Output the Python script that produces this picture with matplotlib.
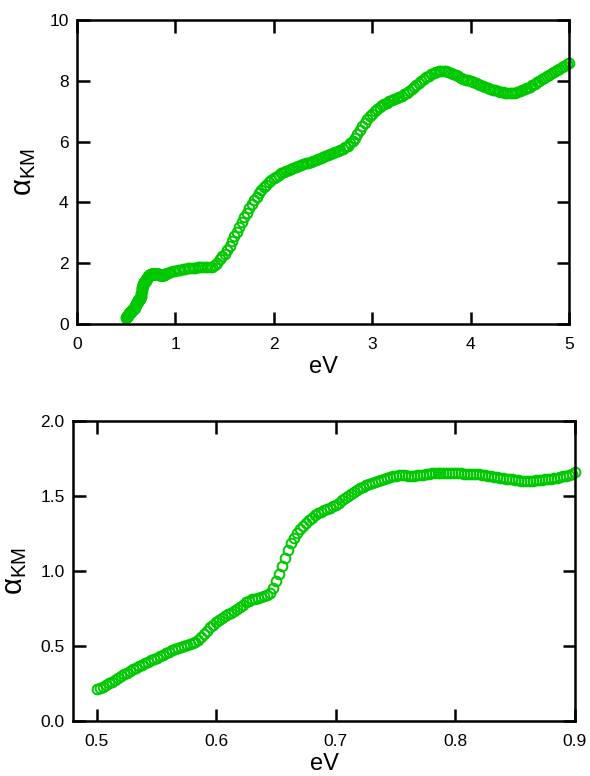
import numpy as np
import matplotlib
matplotlib.use('Agg')
import matplotlib.pyplot as plt

plt.rcParams['font.family'] = ['Liberation Sans', 'DejaVu Sans']
plt.rcParams['mathtext.fontset'] = 'custom'
plt.rcParams['mathtext.rm'] = 'Liberation Sans'
plt.rcParams['mathtext.it'] = 'Liberation Sans'

# absorption (Kubelka-Munk) vs photon energy
# low-energy part, 0.0025 eV steps starting at 0.5 eV
low_start, low_step = 0.5, 0.0025
a_low = [
    0.21, 0.217, 0.225, 0.237, 0.25, 0.262, 0.275, 0.288, 0.30, 0.31,
    0.32, 0.333, 0.345, 0.355, 0.365, 0.375, 0.385, 0.395, 0.405, 0.413,
    0.42, 0.43, 0.44, 0.45, 0.46, 0.47, 0.48, 0.488, 0.495, 0.5,
    0.505, 0.512, 0.52, 0.528, 0.54, 0.558, 0.58, 0.603, 0.625, 0.643,
    0.66, 0.673, 0.685, 0.698, 0.71, 0.722, 0.735, 0.748, 0.76, 0.775,
    0.79, 0.8, 0.81, 0.815, 0.82, 0.825, 0.83, 0.84, 0.855, 0.885,
    0.93, 0.98, 1.03, 1.085, 1.14, 1.185, 1.22, 1.25, 1.28, 1.3,
    1.32, 1.338, 1.355, 1.37, 1.385, 1.395, 1.405, 1.413, 1.42, 1.43,
    1.44, 1.455, 1.47, 1.485, 1.50, 1.513, 1.525, 1.538, 1.55, 1.56,
    1.57, 1.578, 1.585, 1.593, 1.60, 1.608, 1.615, 1.62, 1.625, 1.63,
    1.635, 1.638, 1.64, 1.638, 1.635, 1.635, 1.635, 1.637, 1.64, 1.643,
    1.645, 1.648, 1.65, 1.65, 1.65, 1.65, 1.65, 1.65, 1.65, 1.65,
    1.65, 1.65, 1.65, 1.649, 1.648, 1.648, 1.648, 1.647, 1.645, 1.643,
    1.64, 1.636, 1.632, 1.628, 1.625, 1.621, 1.618, 1.615, 1.612, 1.61,
    1.607, 1.605, 1.603, 1.602, 1.602, 1.602, 1.603, 1.604, 1.606, 1.608,
    1.61, 1.612, 1.615, 1.618, 1.622, 1.626, 1.63, 1.635, 1.64, 1.648,
    1.658,
]

# rest of the spectrum, 0.025 eV steps starting at 0.925 eV
high_start, high_step = 0.925, 0.025
a_high = [
    1.68, 1.71, 1.735,
    1.755, 1.77, 1.785, 1.80, 1.815, 1.825, 1.835, 1.845,
    1.855, 1.86, 1.87, 1.875, 1.88, 1.885, 1.885, 1.89,
    1.93, 2.02, 2.15, 2.22, 2.3, 2.42, 2.56, 2.72,
    2.88, 3.04, 3.2, 3.36, 3.51, 3.66, 3.8, 3.94,
    4.07, 4.19, 4.3, 4.41, 4.5, 4.58, 4.66, 4.73,
    4.79, 4.85, 4.9, 4.95, 4.99, 5.03, 5.07, 5.1,
    5.13, 5.16, 5.19, 5.22, 5.25, 5.28, 5.31, 5.34,
    5.37, 5.4, 5.43, 5.46, 5.5, 5.53, 5.56, 5.59,
    5.62, 5.65, 5.69, 5.73, 5.77, 5.81, 5.87, 5.94,
    6.03, 6.13, 6.25, 6.38, 6.5, 6.62, 6.73, 6.83,
    6.92, 7.0, 7.07, 7.13, 7.19, 7.24, 7.28, 7.32,
    7.36, 7.39, 7.42, 7.46, 7.5, 7.55, 7.6, 7.66,
    7.72, 7.79, 7.86, 7.93, 7.99, 8.05, 8.11, 8.17,
    8.22, 8.26, 8.29, 8.31, 8.32, 8.32, 8.31, 8.29,
    8.26, 8.22, 8.18, 8.14, 8.1, 8.07, 8.04, 8.01,
    7.98, 7.95, 7.92, 7.89, 7.86, 7.83, 7.8, 7.77,
    7.74, 7.71, 7.68, 7.66, 7.64, 7.62, 7.6, 7.59,
    7.59, 7.59, 7.6, 7.62, 7.65, 7.68, 7.72, 7.76,
    7.8, 7.85, 7.9, 7.95, 8.0, 8.05, 8.1, 8.15,
    8.2, 8.25, 8.3, 8.35, 8.4, 8.44, 8.49, 8.54,
    8.58,
]

e_low = low_start + low_step * np.arange(len(a_low))
e_high = high_start + high_step * np.arange(len(a_high))

GREEN = '#00c800'
MS, MEW = 7.0, 1.4


def style(ax, xticks, yticks, xlim, ylim, fmt):
    ax.set_xlim(*xlim)
    ax.set_ylim(*ylim)
    ax.set_xticks(xticks)
    ax.set_yticks(yticks)
    ax.xaxis.set_major_formatter(plt.FormatStrFormatter(fmt[0]))
    ax.yaxis.set_major_formatter(plt.FormatStrFormatter(fmt[1]))
    ax.tick_params(direction='in', length=9, width=1.8, labelsize=12.5,
                   top=True, right=True)
    ax.tick_params(axis='x', pad=9.5)
    ax.tick_params(axis='y', pad=6)
    for s in ax.spines.values():
        s.set_linewidth(1.8)
    ax.set_xlabel('eV', fontsize=17, labelpad=3)
    ax.set_ylabel(r'$\mathrm{\alpha}_{\mathrm{KM}}$', fontsize=21, labelpad=8)


fig = plt.figure(figsize=(5.9, 7.76), dpi=100)

ax1 = fig.add_axes([0.1305, 0.5825, 0.8339, 0.3918])
ax1.plot(e_low, a_low, 'o', mfc='none', mec=GREEN, ms=MS, mew=MEW, clip_on=False)
ax1.plot(e_high, a_high, 'o', mfc='none', mec=GREEN, ms=MS, mew=MEW, clip_on=False)
style(ax1, [0, 1, 2, 3, 4, 5], [0, 2, 4, 6, 8, 10], (0, 5), (0, 10), ('%d', '%d'))

ax2 = fig.add_axes([0.1237, 0.0709, 0.8508, 0.3866])
ax2.plot(e_low, a_low, 'o', mfc='none', mec=GREEN, ms=MS, mew=MEW, clip_on=False)
style(ax2, [0.5, 0.6, 0.7, 0.8, 0.9], [0, 0.5, 1.0, 1.5, 2.0], (0.48, 0.9), (0, 2.0),
      ('%.1f', '%.1f'))

fig.savefig('out.png', dpi=100)
